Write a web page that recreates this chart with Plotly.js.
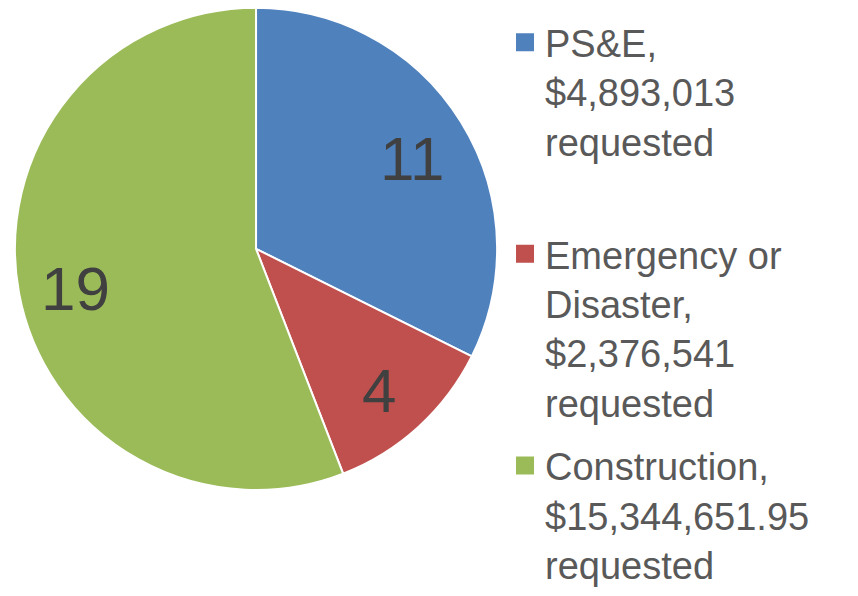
<!DOCTYPE html>
<html>
<head>
<meta charset="utf-8">
<script src="https://cdn.plot.ly/plotly-3.0.1.min.js"></script>
<style>
  html, body { margin: 0; padding: 0; background: #ffffff; }
  #chart { width: 858px; height: 596px; }
</style>
</head>
<body>
<div id="chart"></div>
<script>
// Data
const categories = [
  "PS&E,<br>$4,893,013<br>requested<br>\u00a0",
  "Emergency or<br>Disaster,<br>$2,376,541<br>requested",
  "Construction,<br>$15,344,651.95<br>requested"
];
const counts = [11, 4, 19];
const colors = ["#4F81BD", "#C0504D", "#9BBB59"];

const W = 858, H = 596;
const pieDomain = { x: [0.0163, 0.5805], y: [0.178, 0.987] };
const FONT = "Liberation Sans, Arial, sans-serif";

const pie = {
  type: "pie",
  labels: categories,
  values: counts,
  sort: false,
  direction: "clockwise",
  rotation: 0,
  marker: { colors: colors, line: { color: "#ffffff", width: 2 } },
  textinfo: "none",
  showlegend: false,
  hoverinfo: "label+value",
  domain: pieDomain
};

// Legend entries (one per category, same colours as the slices)
const legendTraces = categories.map((c, i) => ({
  type: "scatter",
  mode: "markers",
  x: [null],
  y: [null],
  name: c,
  legendgroup: "g" + i,
  showlegend: true,
  hoverinfo: "skip",
  marker: { symbol: "square", size: 16, color: colors[i], line: { color: colors[i], width: 2 } }
}));

// Value labels placed at each slice's mid-angle (derived from the data)
const total = counts.reduce((a, b) => a + b, 0);
const cx = (pieDomain.x[0] + pieDomain.x[1]) / 2 * W;
const cy = (1 - (pieDomain.y[0] + pieDomain.y[1]) / 2) * H;
const R = Math.min((pieDomain.x[1] - pieDomain.x[0]) * W, (pieDomain.y[1] - pieDomain.y[0]) * H) / 2;
const labelFrac = 0.76;
let cum = 0;
const annotations = counts.map((v) => {
  const theta = (cum + v / 2) / total * 2 * Math.PI;
  cum += v;
  const px = cx + labelFrac * R * Math.sin(theta);
  const py = cy - labelFrac * R * Math.cos(theta);
  return {
    xref: "paper", yref: "paper",
    x: px / W, y: 1 - py / H,
    xanchor: "center", yanchor: "middle",
    yshift: -6,
    text: String(v),
    showarrow: false,
    font: { family: FONT, size: 62, color: "#404040" }
  };
});

const layout = {
  width: W,
  height: H,
  margin: { l: 0, r: 0, t: 0, b: 0 },
  paper_bgcolor: "#ffffff",
  plot_bgcolor: "rgba(0,0,0,0)",
  font: { family: FONT, color: "#595959" },
  xaxis: { visible: false, fixedrange: true, domain: [0.9, 1] },
  yaxis: { visible: false, fixedrange: true, domain: [0.9, 1] },
  showlegend: true,
  annotations: annotations,
  legend: {
    x: 0.5886, xanchor: "left",
    y: 0.958, yanchor: "top",
    valign: "top",
    traceorder: "grouped",
    tracegroupgap: 11,
    font: { family: FONT, size: 38, color: "#595959" },
    bgcolor: "rgba(0,0,0,0)",
    borderwidth: 0
  }
};

Plotly.newPlot("chart", [pie].concat(legendTraces), layout, { displayModeBar: false, staticPlot: true });
</script>
</body>
</html>
